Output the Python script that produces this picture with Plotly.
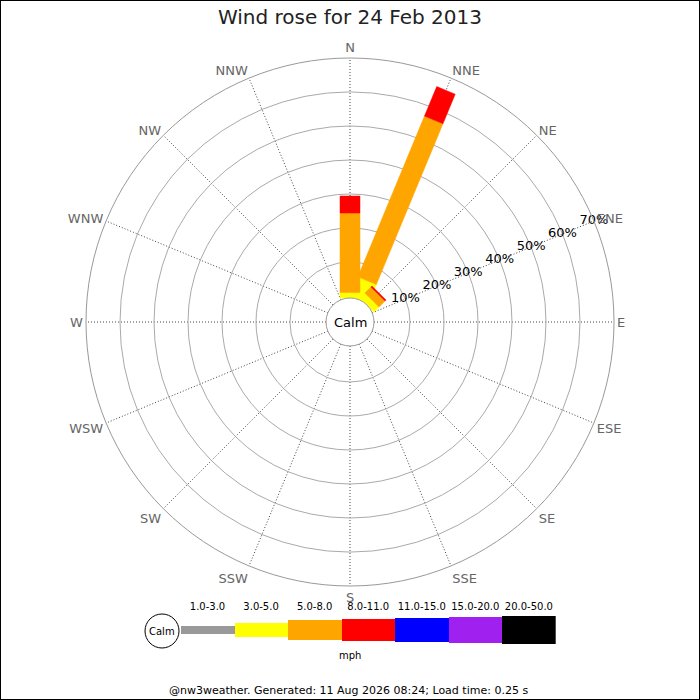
import math
import plotly.graph_objects as go

# compass points, clockwise from north
directions = ['N', 'NNE', 'NE', 'ENE', 'E', 'ESE', 'SE', 'SSE',
              'S', 'SSW', 'SW', 'WSW', 'W', 'WNW', 'NW', 'NNW']
dir_angles = [i * 22.5 for i in range(16)]

# speed bins (mph) and their colours
speed_bins = ['1.0-3.0', '3.0-5.0', '5.0-8.0', '8.0-11.0', '11.0-15.0', '15.0-20.0', '20.0-50.0']
bin_colors = ['#999999', '#ffff00', '#ffa500', '#ff0000', '#0000ff', '#a020f0', '#000000']

# % of the day from each direction, per speed bin (only bins that occur)
rose_dirs = ['N', 'NNE', 'NE']
pct_3_5 = [1.0, 5.5, 1.5]
pct_5_8 = [23.4, 51.2, 2.5]
pct_8_11 = [5.0, 9.4, 0.4]
calm_pct = 0.0

radial_ticks = [10, 20, 30, 40, 50, 60, 70]
legend_heights = [8, 14, 20, 22, 24, 26, 28]

FONT = 'DejaVu Sans'
R0 = -7.65      # radial value at the very centre (leaves room for the calm circle)
HALF_W = 2.94   # half bar width, in radial units


def bar_rect(theta, lo, hi):
    # straight-sided bar between lo and hi along one direction
    a_lo = math.sqrt(R0 ** 2 - HALF_W ** 2) if lo == 0 else lo - R0
    a_hi = hi - R0
    pts = [(a_lo, -HALF_W), (a_lo, HALF_W), (a_hi, HALF_W), (a_hi, -HALF_W), (a_lo, -HALF_W)]
    rr = [math.hypot(a, w) + R0 for a, w in pts]
    tt = [theta + math.degrees(math.atan2(w, a)) for a, w in pts]
    return rr, tt


fig = go.Figure()

segments = [(pct_3_5, bin_colors[1]), (pct_5_8, bin_colors[2]), (pct_8_11, bin_colors[3])]
base = [0.0] * len(rose_dirs)
stacks = []
for vals, col in segments:
    tops = [b + v for b, v in zip(base, vals)]
    stacks.append((list(base), tops, col))
    base = tops

for lows, tops, col in stacks:
    for d, lo, hi in zip(rose_dirs, lows, tops):
        if hi - lo <= 0:
            continue
        rr, tt = bar_rect(dir_angles[directions.index(d)], lo, hi)
        fig.add_trace(go.Scatterpolar(
            r=rr, theta=tt, mode='lines', fill='toself',
            fillcolor=col, line=dict(color=col, width=0.5),
            hoverinfo='skip', showlegend=False
        ))

# radial percentage labels along the ENE spoke
fig.add_trace(go.Scatterpolar(
    r=radial_ticks,
    theta=[dir_angles[directions.index('ENE')]] * len(radial_ticks),
    mode='text',
    text=[f'{t}%' for t in radial_ticks],
    textfont=dict(family=FONT, size=13, color='black'),
    hoverinfo='skip', showlegend=False
))

# speed legend as a little bar chart
fig.add_trace(go.Bar(
    x=list(range(len(speed_bins))),
    y=legend_heights,
    base=[-h / 2 for h in legend_heights],
    width=1,
    marker=dict(color=bin_colors, line=dict(width=0)),
    hoverinfo='skip', showlegend=False
))
fig.add_trace(go.Scatter(
    x=list(range(len(speed_bins))),
    y=[23] * len(speed_bins),
    mode='text',
    text=speed_bins,
    textfont=dict(family=FONT, size=10, color='black'),
    hoverinfo='skip', showlegend=False
))


def note(text, px, py, size):
    return dict(text=text, x=px / 700, y=1 - py / 700, xref='paper', yref='paper',
                xanchor='center', yanchor='middle', showarrow=False,
                font=dict(family=FONT, size=size, color='black'))


fig.update_layout(
    width=700, height=700,
    margin=dict(l=0, r=0, t=0, b=0),
    paper_bgcolor='white', plot_bgcolor='white',
    font=dict(family=FONT, color='black'),
    title=dict(text='Wind rose for 24 Feb 2013', x=0.5, y=1 - 17 / 700,
               xanchor='center', yanchor='middle',
               font=dict(family=FONT, size=20, color='#222')),
    polar=dict(
        domain=dict(x=[86 / 700, 614 / 700], y=[1 - 586 / 700, 1 - 58 / 700]),
        bgcolor='white',
        angularaxis=dict(
            rotation=90, direction='clockwise',
            tickmode='array', tickvals=dir_angles, ticktext=directions,
            tickfont=dict(family=FONT, size=13, color='#666'),
            ticks='', showline=True, linecolor='#999', linewidth=1,
            showgrid=True, gridcolor='#444', griddash='1px,2px', gridwidth=1
        ),
        radialaxis=dict(
            range=[R0, 70], tickmode='array', tickvals=radial_ticks,
            showticklabels=False, ticks='', showline=False,
            showgrid=True, gridcolor='#aaa', gridwidth=1
        )
    ),
    xaxis=dict(domain=[180.7 / 700, 555.7 / 700], range=[-0.5, 6.5], visible=False, fixedrange=True),
    yaxis=dict(domain=[1 - 660 / 700, 1 - 600 / 700], range=[-30, 30], visible=False, fixedrange=True),
    bargap=0,
    shapes=[
        # calm circle in the middle of the rose
        dict(type='circle', xref='paper', yref='paper',
             x0=(350 - 24) / 700, x1=(350 + 24) / 700,
             y0=1 - (322 + 24) / 700, y1=1 - (322 - 24) / 700,
             fillcolor='white', line=dict(color='#999', width=1), layer='above'),
        # calm circle in the legend
        dict(type='circle', xref='paper', yref='paper',
             x0=(162 - 17) / 700, x1=(162 + 17) / 700,
             y0=1 - (631 + 17) / 700, y1=1 - (631 - 17) / 700,
             fillcolor='white', line=dict(color='black', width=1), layer='above'),
        # frame
        dict(type='rect', xref='paper', yref='paper', x0=0, x1=1, y0=0, y1=1,
             line=dict(color='black', width=2))
    ],
    annotations=[
        note('Calm', 350, 322, 13),
        note('Calm', 162, 631, 10),
        note('mph', 350, 655, 10),
        note('@nw3weather. Generated: 11 Aug 2026 08:24; Load time: 0.25 s', 348, 690, 11)
    ]
)

fig.write_html("out.html", config={'displayModeBar': False},
               post_script="document.body.style.margin='0px';document.body.style.overflow='hidden';")
